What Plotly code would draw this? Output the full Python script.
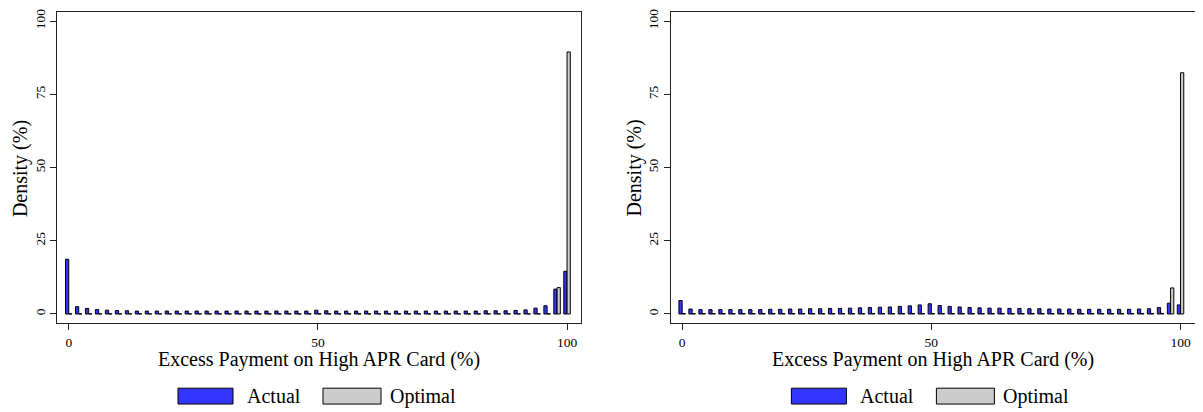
import plotly.graph_objects as go

# ---------------- data ----------------
bins = list(range(0, 101, 2))  # Excess payment bins (%)

left_actual = [18.7, 2.5, 1.9, 1.5, 1.3, 1.2, 1.1, 1.0, 1.0, 1.0,
               1.0, 1.0, 1.0, 1.0, 1.0, 1.0, 1.0, 1.0, 1.0, 1.0,
               1.0, 1.0, 1.0, 1.0, 1.0, 1.3, 1.1, 1.0, 1.0, 1.0,
               1.0, 1.0, 1.0, 1.0, 1.0, 1.0, 1.0, 1.0, 1.0, 1.0,
               1.0, 1.0, 1.1, 1.1, 1.1, 1.2, 1.4, 2.0, 2.8, 8.5, 14.6]
left_optimal = [0.05] * 49 + [9.0, 89.5]

right_actual = [4.6, 1.7, 1.5, 1.5, 1.5, 1.5, 1.5, 1.5, 1.5, 1.6,
                1.6, 1.7, 1.7, 1.8, 1.8, 1.9, 1.9, 2.0, 2.1, 2.2,
                2.3, 2.4, 2.6, 2.8, 3.1, 3.5, 2.9, 2.6, 2.4, 2.2,
                2.1, 2.0, 2.0, 1.9, 1.9, 1.8, 1.8, 1.7, 1.7, 1.7,
                1.6, 1.6, 1.6, 1.6, 1.6, 1.6, 1.7, 1.8, 2.2, 3.7, 3.1]
right_optimal = [0.15] * 49 + [8.9, 82.4]

y_ticks = [0, 25, 50, 75, 100]
x_ticks = [0, 50, 100]
x_title = "Excess Payment on High APR Card (%)"
y_title = "Density (%)"
legend_names = ["Actual", "Optimal"]

# ---------------- style ----------------
PAGE_OFF = 8          # default body margin of the html page
W, H = 1203 - PAGE_OFF, 412 - PAGE_OFF
BLUE = "#3434FF"
GRAY = "#CCCCCC"
FONT = "Liberation Serif"

def px(x):
    return (x - PAGE_OFF) / W

def py(y):
    return 1 - (y - PAGE_OFF) / H

fig = go.Figure()

panels = [
    (left_actual, left_optimal, "x", "y"),
    (right_actual, right_optimal, "x2", "y2"),
]
for act, opt, xa, ya in panels:
    fig.add_trace(go.Bar(x=bins, y=act, name=legend_names[0], xaxis=xa, yaxis=ya,
                         marker=dict(color=BLUE, line=dict(color="black", width=1)),
                         showlegend=False, offsetgroup="a"))
    fig.add_trace(go.Bar(x=bins, y=opt, name=legend_names[1], xaxis=xa, yaxis=ya,
                         marker=dict(color=GRAY, line=dict(color="black", width=1)),
                         showlegend=False, offsetgroup="b"))

frames = [(57.3, 581.0), (670.7, 1194.5)]
top_px, bot_px = 9.3, 322.7

axis_common = dict(
    showline=True, mirror=True, linecolor="#222222", linewidth=1,
    ticks="outside", ticklen=6, tickcolor="#222222", tickwidth=1,
    showgrid=False, zeroline=False, ticklabeloverflow="allow",
    tickfont=dict(family=FONT, size=13.5, color="black"),
)

layout = dict(
    width=W, height=H,
    margin=dict(l=0, r=0, t=0, b=0),
    paper_bgcolor="white", plot_bgcolor="white",
    barmode="group", bargap=0.35, bargroupgap=0.0,
    font=dict(family=FONT, color="black"),
)
for i, (l, r) in enumerate(frames):
    suf = "" if i == 0 else str(i + 1)
    layout["xaxis" + suf] = dict(axis_common, domain=[px(l), min(px(r), 1.0)],
                                 range=[-2.3, 102.8], tickvals=x_ticks,
                                 anchor="y" + suf)
    layout["yaxis" + suf] = dict(axis_common, domain=[py(bot_px), min(py(top_px), 1.0)],
                                 range=[-3.2, 103.05], tickvals=y_ticks,
                                 tickangle=-90, anchor="x" + suf)
fig.update_layout(**layout)

shapes = []
annotations = []
for l, r in frames:
    off = l - 57.3
    cx = (l + r) / 2
    # axis titles
    annotations.append(dict(text=x_title, x=px(cx), y=py(359), xref="paper", yref="paper",
                            showarrow=False, xanchor="center", yanchor="middle",
                            font=dict(family=FONT, size=20, color="black")))
    annotations.append(dict(text=y_title, x=px(l - 36.5), y=py((top_px + bot_px) / 2 + 0.5),
                            xref="paper", yref="paper", textangle=-90,
                            showarrow=False, xanchor="center", yanchor="middle",
                            font=dict(family=FONT, size=20, color="black")))
    # legend
    for (x0, x1, tx, col, name) in [(178, 233, 245, BLUE, legend_names[0]),
                                     (323, 381, 388, GRAY, legend_names[1])]:
        shapes.append(dict(type="rect", xref="paper", yref="paper",
                           x0=px(x0 + off), x1=px(x1 + off), y0=py(404), y1=py(388),
                           fillcolor=col, line=dict(color="black", width=1)))
        annotations.append(dict(text=name, x=px(tx + off), y=py(396), xref="paper", yref="paper",
                                showarrow=False, xanchor="left", yanchor="middle",
                                font=dict(family=FONT, size=20, color="black")))

fig.update_layout(shapes=shapes, annotations=annotations)
fig.write_html("out.html")
